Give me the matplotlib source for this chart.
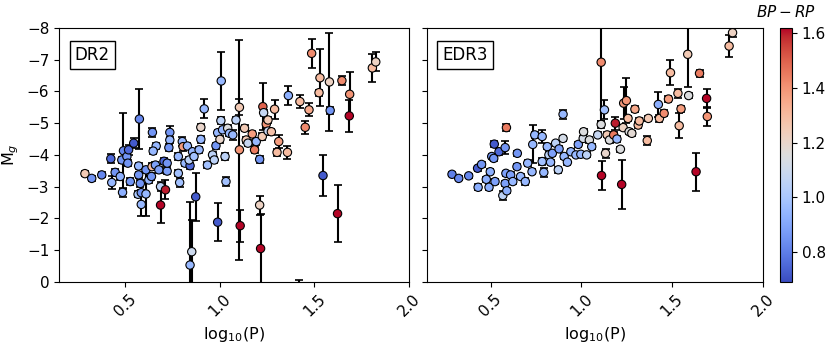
import numpy as np
import matplotlib
matplotlib.use('Agg')
import matplotlib.pyplot as plt
from matplotlib.colors import Normalize

# DR2 panel
logp_dr2 = [0.287, 0.323, 0.376, 0.424, 0.429, 0.447, 0.474, 0.486, 0.482, 0.491,
            0.509, 0.514, 0.518, 0.527, 0.545, 0.575, 0.571, 0.571, 0.580, 0.568,
            0.585, 0.585, 0.610, 0.610, 0.625, 0.644, 0.664, 0.648, 0.642, 0.660,
            0.639, 0.678, 0.687, 0.687, 0.705, 0.713, 0.722, 0.722, 0.736, 0.736,
            0.731, 0.781, 0.788, 0.781, 0.802, 0.806, 0.829, 0.816, 0.843, 0.838,
            0.856, 0.864, 0.873, 0.852, 0.843, 0.891, 0.900, 0.900, 0.918, 0.935,
            0.962, 0.971, 0.980, 0.989, 0.989, 1.008, 1.006, 1.001, 1.015, 1.028,
            1.033, 1.042, 1.051, 1.069, 1.086, 1.104, 1.104, 1.108, 1.131, 1.140,
            1.149, 1.172, 1.184, 1.193, 1.211, 1.211, 1.216, 1.225, 1.228, 1.232,
            1.246, 1.255, 1.255, 1.273, 1.290, 1.312, 1.303, 1.358, 1.363, 1.424,
            1.472, 1.452, 1.486, 1.530, 1.525, 1.580, 1.584, 1.546, 1.646, 1.687,
            1.685, 1.623, 1.807, 1.825, 1.417]
mg_dr2 = [-3.41, -3.26, -3.37, -3.88, -3.13, -3.45, -3.32, -2.82, -3.84, -4.13,
          -3.95, -3.74, -4.16, -3.16, -4.37, -5.13, -3.65, -3.37, -3.10, -2.76,
          -2.81, -2.44, -2.77, -3.53, -3.21, -4.71, -4.28, -4.12, -3.63, -3.68,
          -3.32, -3.53, -3.00, -2.42, -3.80, -2.90, -3.49, -3.74, -4.71, -4.47,
          -4.23, -3.42, -3.13, -3.95, -4.42, -4.26, -4.28, -3.74, -3.66, -3.84,
          -4.10, -3.95, -2.68, -0.95, -0.53, -4.16, -4.49, -4.87, -5.45, -3.68,
          -4.00, -3.84, -4.29, -4.70, -1.88, -6.33, -5.08, -4.49, -4.79, -3.95,
          -3.16, -4.84, -4.68, -4.63, -5.10, -5.50, -4.16, -1.77, -4.84, -4.47,
          -4.37, -4.66, -4.16, -4.42, -3.86, -2.42, -1.05, -4.58, -5.52, -5.33,
          -4.97, -5.10, -4.75, -4.73, -5.44, -4.42, -4.08, -4.08, -5.87, -5.68,
          -5.42, -4.87, -7.20, -6.43, -5.96, -6.30, -5.40, -3.35, -6.34, -5.91,
          -5.23, -2.15, -6.74, -6.93, 0.30]
err_dr2 = [0.08, 0.08, 0.08, 0.15, 0.20, 0.10, 0.10, 0.15, 0.10, 1.20,
           0.10, 0.10, 0.15, 0.10, 0.15, 0.95, 0.10, 0.10, 0.10, 0.10,
           0.10, 0.35, 0.70, 0.10, 0.10, 0.15, 0.10, 0.10, 0.10, 0.10,
           0.10, 0.10, 0.15, 0.55, 0.10, 0.30, 0.10, 0.10, 0.20, 0.10,
           0.10, 0.10, 0.15, 0.10, 0.15, 0.15, 0.10, 0.10, 0.10, 0.10,
           0.10, 0.10, 0.75, 1.00, 2.00, 0.10, 0.10, 0.10, 0.30, 0.10,
           0.10, 0.10, 0.10, 0.10, 0.60, 0.90, 0.10, 0.10, 0.10, 0.10,
           0.15, 0.10, 0.10, 0.15, 0.10, 0.25, 3.47, 0.50, 0.10, 0.10,
           0.10, 0.10, 0.10, 0.10, 0.10, 0.30, 1.10, 0.10, 0.75, 0.10,
           0.10, 0.10, 0.10, 0.10, 0.30, 0.20, 0.10, 0.20, 0.30, 0.20,
           0.20, 0.20, 0.45, 0.90, 0.10, 1.55, 0.10, 0.65, 0.15, 0.70,
           0.50, 0.90, 0.45, 0.30, 0.35]
bprp_dr2 = [1.25, 0.85, 0.82, 0.75, 0.95, 0.85, 0.92, 0.92, 0.85, 0.82,
            0.85, 0.85, 0.75, 0.85, 0.72, 0.82, 0.95, 0.85, 0.85, 1.00,
            0.85, 0.95, 0.95, 0.85, 0.95, 0.85, 0.95, 0.95, 1.30, 0.88,
            0.85, 0.88, 1.05, 1.62, 0.75, 1.60, 0.88, 0.85, 0.85, 0.95,
            0.85, 0.98, 0.98, 0.95, 0.95, 1.38, 0.95, 0.95, 0.75, 1.05,
            0.95, 0.98, 0.72, 1.10, 0.95, 0.95, 0.95, 1.20, 0.95, 0.98,
            1.05, 1.05, 0.85, 0.95, 0.72, 0.95, 1.05, 1.20, 0.95, 1.05,
            0.98, 1.15, 0.95, 0.95, 1.05, 1.25, 1.40, 1.62, 1.25, 1.25,
            1.08, 1.38, 1.45, 0.95, 0.85, 1.22, 1.62, 1.25, 1.50, 1.08,
            1.40, 1.25, 1.08, 1.28, 1.30, 1.38, 1.30, 1.30, 0.92, 1.30,
            1.35, 1.42, 1.42, 1.30, 1.30, 1.22, 0.85, 0.72, 1.42, 1.40,
            1.62, 1.62, 1.30, 1.22, 1.20]

# EDR3 panel
logp_edr3 = [0.287, 0.324, 0.379, 0.428, 0.431, 0.450, 0.476, 0.491, 0.498, 0.506,
             0.517, 0.520, 0.546, 0.580, 0.587, 0.524, 0.580, 0.567, 0.589, 0.584,
             0.610, 0.622, 0.647, 0.645, 0.665, 0.691, 0.704, 0.728, 0.732, 0.743,
             0.784, 0.784, 0.793, 0.812, 0.821, 0.830, 0.840, 0.858, 0.877, 0.873,
             0.899, 0.899, 0.905, 0.923, 0.942, 0.970, 0.983, 0.997, 1.010, 1.012,
             1.029, 1.044, 1.057, 1.090, 1.109, 1.109, 1.111, 1.127, 1.133, 1.142,
             1.155, 1.178, 1.187, 1.196, 1.215, 1.222, 1.233, 1.248, 1.230, 1.257,
             1.263, 1.278, 1.295, 1.313, 1.319, 1.369, 1.363, 1.424, 1.430, 1.456,
             1.480, 1.491, 1.532, 1.539, 1.549, 1.586, 1.591, 1.651, 1.632, 1.690,
             1.694, 1.814, 1.833]
mg_edr3 = [-3.39, -3.26, -3.34, -3.58, -2.98, -3.70, -3.23, -2.98, -3.47, -3.95,
           -3.89, -4.34, -4.10, -4.23, -4.86, -3.16, -3.10, -2.72, -2.87, -3.42,
           -3.37, -3.16, -4.05, -3.63, -3.32, -3.16, -3.74, -3.47, -4.33, -4.63,
           -4.58, -3.79, -3.45, -4.26, -4.00, -3.77, -4.05, -4.37, -4.19, -3.53,
           -4.52, -5.28, -3.95, -3.77, -4.10, -4.00, -4.33, -4.02, -4.52, -4.73,
           -4.00, -4.47, -4.26, -4.63, -6.92, -4.96, -3.35, -5.42, -4.05, -4.63,
           -4.47, -4.63, -5.00, -4.50, -4.18, -3.07, -5.63, -5.71, -4.86, -5.15,
           -4.73, -4.68, -5.44, -4.94, -5.07, -5.15, -4.45, -5.59, -5.15, -5.31,
           -5.76, -6.59, -5.94, -4.92, -5.45, -7.17, -5.87, -6.57, -3.47, -5.78,
           -5.21, -7.43, -7.85]
err_edr3 = [0.06, 0.06, 0.06, 0.08, 0.10, 0.08, 0.08, 0.08, 0.08, 0.08,
            0.08, 0.10, 0.10, 0.20, 0.10, 0.08, 0.08, 0.15, 0.08, 0.08,
            0.08, 0.08, 0.08, 0.08, 0.08, 0.10, 0.10, 0.08, 0.60, 0.10,
            0.20, 0.10, 0.15, 0.08, 0.08, 0.08, 0.08, 0.08, 0.08, 0.10,
            0.08, 0.15, 0.08, 0.08, 0.08, 0.08, 0.08, 0.08, 0.08, 0.08,
            0.08, 0.08, 0.08, 0.08, 1.85, 0.10, 0.45, 0.30, 0.15, 0.08,
            0.08, 0.08, 0.20, 0.08, 0.08, 0.78, 0.50, 0.70, 0.08, 0.08,
            0.08, 0.08, 0.10, 0.10, 0.10, 0.08, 0.15, 0.40, 0.10, 0.10,
            0.10, 0.40, 0.15, 0.40, 0.10, 1.02, 0.08, 0.10, 0.60, 0.30,
            0.30, 0.35, 0.15]
bprp_edr3 = [0.80, 0.82, 0.82, 0.72, 0.92, 0.85, 0.92, 0.92, 0.92, 0.85,
             0.85, 0.72, 0.75, 0.85, 1.45, 0.88, 0.88, 1.05, 0.92, 0.88,
             0.88, 0.95, 0.85, 0.85, 0.95, 0.95, 0.95, 0.95, 0.95, 0.95,
             0.95, 0.98, 0.95, 0.95, 1.05, 0.95, 0.88, 1.05, 0.88, 1.05,
             1.12, 0.95, 0.95, 0.95, 0.95, 0.95, 0.88, 0.95, 1.12, 1.15,
             1.05, 1.15, 0.95, 1.08, 1.42, 1.15, 1.62, 0.98, 1.20, 1.25,
             1.15, 1.45, 1.60, 0.95, 1.15, 1.62, 1.40, 1.40, 1.22, 1.30,
             1.15, 1.18, 1.35, 1.30, 1.30, 1.25, 1.30, 0.92, 1.30, 1.42,
             1.38, 1.30, 1.30, 1.30, 1.38, 1.25, 1.15, 1.45, 1.62, 1.62,
             1.40, 1.30, 1.22]

plt.rcParams['font.size'] = 11
fig = plt.figure(figsize=(8.31, 3.45), dpi=100)
ax1 = fig.add_axes([0.071, 0.183, 0.421, 0.736])
ax2 = fig.add_axes([0.514, 0.183, 0.404, 0.736], sharey=ax1)
cax = fig.add_axes([0.9386, 0.183, 0.0144, 0.736])

norm = Normalize(vmin=0.69, vmax=1.62)
cmap = plt.get_cmap('coolwarm')

def panel(ax, x, y, e, c, name):
    ax.errorbar(x, y, yerr=e, fmt='none', ecolor='black', elinewidth=1.5,
                capsize=3, capthick=1.2, zorder=1)
    sc = ax.scatter(x, y, c=c, cmap=cmap, norm=norm, s=36, edgecolors='black',
                    linewidths=0.8, zorder=2)
    ax.set_xlim(0.15, 2.0)
    ax.set_xticks([0.5, 1.0, 1.5, 2.0])
    ax.set_xticklabels(['0.5', '1.0', '1.5', '2.0'], rotation=45)
    ax.set_xlabel('log$_{10}$(P)', fontsize=11.5)
    ax.text(0.045, 0.93, name, transform=ax.transAxes, va='top', ha='left', fontsize=12,
            bbox=dict(facecolor='white', edgecolor='black', boxstyle='square,pad=0.3'))
    return sc

sc = panel(ax1, logp_dr2, mg_dr2, err_dr2, bprp_dr2, 'DR2')
panel(ax2, logp_edr3, mg_edr3, err_edr3, bprp_edr3, 'EDR3')
ax1.set_ylim(0, -8)
ax1.set_yticks(range(0, -9, -1))
ax1.set_ylabel('M$_g$', fontsize=11.5)
plt.setp(ax2.get_yticklabels(), visible=False)

cb = fig.colorbar(sc, cax=cax)
cb.set_ticks([0.8, 1.0, 1.2, 1.4, 1.6])
cax.set_title('$BP-RP$', fontsize=11, pad=8)

fig.savefig('out.png', dpi=100)
